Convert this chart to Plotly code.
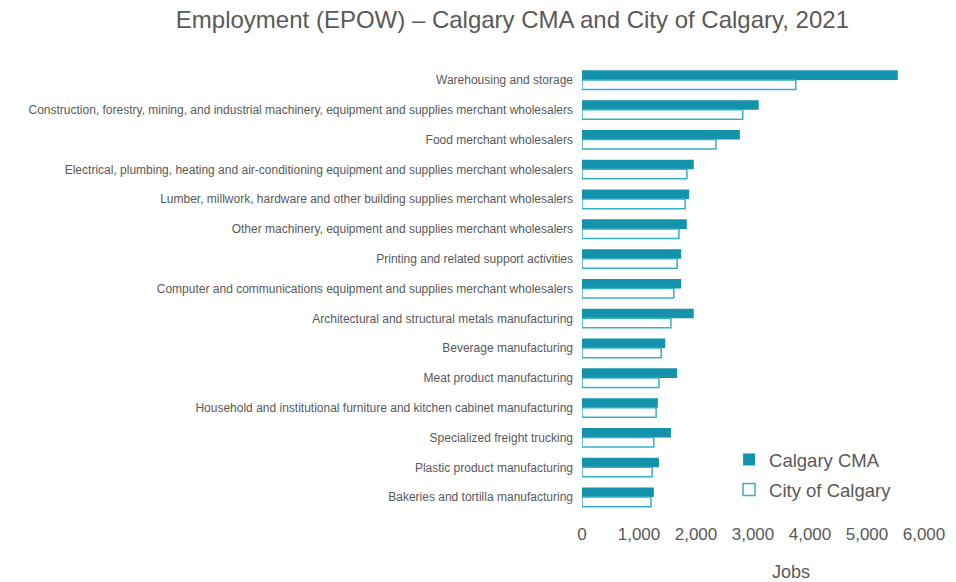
import plotly.graph_objects as go

# Industries, ordered from largest to smallest (top to bottom)
industries = [
    "Warehousing and storage",
    "Construction, forestry, mining, and industrial machinery, equipment and supplies merchant wholesalers",
    "Food merchant wholesalers",
    "Electrical, plumbing, heating and air-conditioning equipment and supplies merchant wholesalers",
    "Lumber, millwork, hardware and other building supplies merchant wholesalers",
    "Other machinery, equipment and supplies merchant wholesalers",
    "Printing and related support activities",
    "Computer and communications equipment and supplies merchant wholesalers",
    "Architectural and structural metals manufacturing",
    "Beverage manufacturing",
    "Meat product manufacturing",
    "Household and institutional furniture and kitchen cabinet manufacturing",
    "Specialized freight trucking",
    "Plastic product manufacturing",
    "Bakeries and tortilla manufacturing",
]

# Jobs by place of work
calgary_cma = [5540, 3100, 2770, 1960, 1880, 1840, 1740, 1740, 1960, 1460, 1670, 1330, 1560, 1350, 1260]
city_of_calgary = [3750, 2820, 2350, 1840, 1810, 1700, 1670, 1610, 1560, 1390, 1350, 1300, 1260, 1230, 1210]

x_ticks = [0, 1000, 2000, 3000, 4000, 5000, 6000]

GREY = "#595959"
FONT = "Liberation Sans, Arial, sans-serif"

fig = go.Figure()
fig.add_trace(go.Bar(
    name="Calgary CMA",
    y=industries,
    x=calgary_cma,
    orientation="h",
    marker=dict(color="#1592ab", line=dict(width=0)),
    legendgroup="cma",
))
fig.add_trace(go.Bar(
    name="City of Calgary",
    y=industries,
    x=city_of_calgary,
    orientation="h",
    marker=dict(color="#ffffff", line=dict(color="#35b0c8", width=1.5)),
    legendgroup="city",
))

fig.update_layout(
    width=956,
    height=582,
    paper_bgcolor="white",
    plot_bgcolor="white",
    barmode="group",
    bargap=0.36,
    bargroupgap=0,
    margin=dict(l=582, r=32, t=65, b=70, autoexpand=False),
    font=dict(family=FONT, color=GREY),
    title=dict(
        text="Employment (EPOW) \u2013 Calgary CMA and City of Calgary, 2021",
        x=0.536,
        xanchor="center",
        y=0.967,
        yanchor="middle",
        font=dict(size=24, color=GREY, family=FONT),
    ),
    legend=dict(
        x=0.43,
        xanchor="left",
        y=0.159,
        yanchor="top",
        font=dict(size=18.5, color=GREY, family=FONT),
        tracegroupgap=3,
        bgcolor="rgba(0,0,0,0)",
        itemwidth=30,
    ),
    xaxis=dict(
        range=[0, 6000],
        tickvals=x_ticks,
        tickformat=",",
        showgrid=False,
        zeroline=False,
        showline=False,
        ticks="",
        ticklabelstandoff=10,
        tickfont=dict(size=17, color=GREY, family=FONT),
    ),
    yaxis=dict(
        autorange="reversed",
        showgrid=False,
        showline=False,
        ticks="",
        ticklabelstandoff=8,
        tickfont=dict(size=12, color=GREY, family=FONT),
    ),
    annotations=[
        dict(
            text="Jobs",
            xref="x",
            yref="paper",
            x=3660,
            y=-0.135,
            xanchor="center",
            yanchor="middle",
            showarrow=False,
            font=dict(size=18, color=GREY, family=FONT),
        )
    ],
)

fig.write_html("out.html")
